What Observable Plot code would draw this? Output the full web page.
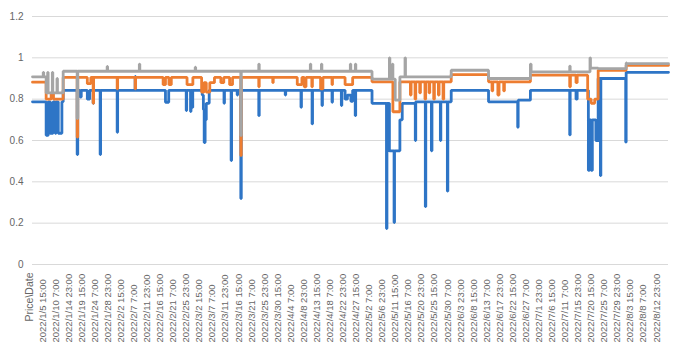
<!DOCTYPE html>
<html>
<head>
<meta charset="utf-8">
<script src="https://cdn.jsdelivr.net/npm/d3@7"></script>
<script src="https://cdn.jsdelivr.net/npm/@observablehq/plot@0.6"></script>
<style>
  html, body { margin: 0; padding: 0; background: #fff; }
  #chart { width: 680px; height: 348px; overflow: hidden; }
</style>
</head>
<body>
<div id="chart"></div>
<script>
// Category positions are hourly rows (0 = header row "Price\Date"), a label every 112 rows.
const tickLabels = ["Price\\Date","2022/1/5 15:00","2022/1/10 7:00","2022/1/14 23:00","2022/1/19 15:00","2022/1/24 7:00","2022/1/28 23:00","2022/2/2 15:00","2022/2/7 7:00","2022/2/11 23:00","2022/2/16 15:00","2022/2/21 7:00","2022/2/25 23:00","2022/3/2 15:00","2022/3/7 7:00","2022/3/11 23:00","2022/3/16 15:00","2022/3/21 7:00","2022/3/25 23:00","2022/3/30 15:00","2022/4/4 7:00","2022/4/8 23:00","2022/4/13 15:00","2022/4/18 7:00","2022/4/22 23:00","2022/4/27 15:00","2022/5/2 7:00","2022/5/6 23:00","2022/5/11 15:00","2022/5/16 7:00","2022/5/20 23:00","2022/5/25 15:00","2022/5/30 7:00","2022/6/3 23:00","2022/6/8 15:00","2022/6/13 7:00","2022/6/17 23:00","2022/6/22 15:00","2022/6/27 7:00","2022/7/1 23:00","2022/7/6 15:00","2022/7/11 7:00","2022/7/15 23:00","2022/7/20 15:00","2022/7/25 7:00","2022/7/29 23:00","2022/8/3 15:00","2022/8/8 7:00","2022/8/12 23:00"];
const labelStep = 112;
const lastRow = 5453;
const yTicks = [0, 0.2, 0.4, 0.6, 0.8, 1, 1.2];

// Step series: [row, value] — value holds from that row until the next entry.
const blueSteps = [
[0,0.787],[117,0.625],[135,0.787],[152,0.635],[176,0.787],[195,0.635],[202,0.787],[221,0.635],[252,0.787],
[263,0.843],[383,0.532],[388,0.843],[410,0.81],[418,0.843],[470,0.80],[490,0.843],[520,0.78],[524,0.843],
[580,0.532],[584,0.843],[726,0.64],[730,0.843],[880,0.91],[884,0.843],[1140,0.785],[1168,0.843],
[1318,0.745],[1322,0.843],[1355,0.74],[1359,0.843],[1370,0.76],[1374,0.843],
[1455,0.82],[1465,0.75],[1472,0.59],[1480,0.70],[1490,0.78],[1515,0.843],
[1642,0.78],[1646,0.843],[1703,0.503],[1707,0.843],[1755,0.82],[1759,0.843],[1786,0.319],[1790,0.843],
[1940,0.72],[1944,0.843],[2167,0.82],[2171,0.843],[2302,0.761],[2306,0.843],[2397,0.68],[2401,0.843],
[2482,0.769],[2486,0.843],[2568,0.785],[2572,0.843],[2648,0.769],[2652,0.843],
[2680,0.80],[2700,0.82],[2730,0.79],[2745,0.843],[2767,0.72],[2771,0.843],
[2911,0.78],[3035,0.174],[3039,0.78],[3060,0.55],[3100,0.203],[3104,0.55],[3150,0.70],[3170,0.78],
[3282,0.60],[3286,0.787],[3368,0.28],[3372,0.787],[3420,0.55],[3425,0.787],[3497,0.60],[3501,0.787],[3557,0.355],[3561,0.787],
[3590,0.843],[3910,0.787],[4160,0.664],[4164,0.795],
[4269,0.843],[4606,0.627],[4610,0.843],[4660,0.80],[4670,0.843],
[4766,0.455],[4775,0.70],[4790,0.455],[4800,0.70],[4830,0.60],[4850,0.90],[4869,0.43],[4873,0.90],
[5086,0.592],[5090,0.93]
];
const orangeSteps = [
[0,0.882],[117,0.80],[160,0.83],[180,0.80],[263,0.905],[383,0.616],[388,0.905],[470,0.875],[500,0.905],
[520,0.78],[524,0.905],[726,0.85],[730,0.905],[880,0.85],[884,0.905],
[1120,0.87],[1140,0.905],[1170,0.87],[1190,0.905],[1325,0.87],[1375,0.905],
[1450,0.834],[1470,0.88],[1490,0.834],[1520,0.88],[1560,0.905],[1615,0.88],[1640,0.905],[1690,0.87],[1715,0.905],
[1786,0.527],[1790,0.905],[1940,0.86],[1944,0.905],[2060,0.88],[2064,0.905],[2270,0.87],[2310,0.905],
[2330,0.86],[2345,0.905],[2395,0.86],[2400,0.905],[2470,0.85],[2490,0.905],[2568,0.87],[2572,0.905],[2680,0.87],[2745,0.905],
[2911,0.884],[3090,0.739],[3150,0.884],
[3240,0.82],[3246,0.884],[3280,0.80],[3286,0.884],[3320,0.83],[3326,0.884],[3365,0.80],[3371,0.884],[3400,0.83],[3406,0.884],
[3440,0.80],[3446,0.884],[3480,0.82],[3486,0.884],[3520,0.80],[3526,0.884],
[3590,0.919],[3910,0.884],[3940,0.84],[3946,0.884],[3990,0.82],[4000,0.884],[4040,0.84],[4046,0.884],
[4269,0.916],[4606,0.86],[4612,0.916],[4660,0.88],[4670,0.916],[4760,0.80],[4790,0.78],[4820,0.80],[4850,0.94],
[5090,0.964]
];
const graySteps = [
[0,0.908],[92,0.93],[96,0.908],[117,0.83],[130,0.93],[134,0.83],[170,0.93],[174,0.83],[210,0.90],[214,0.83],
[263,0.935],[383,0.706],[388,0.935],[640,0.958],[644,0.935],[916,0.97],[920,0.935],[1395,0.955],[1399,0.935],
[1786,0.624],[1790,0.935],[1940,0.97],[1944,0.935],[2382,0.97],[2386,0.935],[2477,0.97],[2481,0.935],
[2725,0.97],[2729,0.935],[2768,0.97],[2772,0.935],
[2911,0.897],[3060,1.0],[3064,0.897],[3086,0.97],[3090,0.897],[3110,0.795],[3150,0.908],[3194,1.0],[3198,0.908],
[3590,0.94],[3910,0.90],[4269,0.97],[4275,0.932],[4606,0.96],[4610,0.932],[4780,1.0],[4784,0.95],[4850,0.948],
[5090,0.975],[5094,0.972]
];

function expand(steps, name) {
  const pts = steps.map(([x, v]) => ({x, v, s: name}));
  pts.push({x: lastRow, v: steps[steps.length - 1][1], s: name});
  return pts;
}
const series = [
  {name: "blue", steps: blueSteps, color: "#2e75c6"},
  {name: "orange", steps: orangeSteps, color: "#ed7d31"},
  {name: "gray", steps: graySteps, color: "#a5a5a5"}
];
const ticks = tickLabels.map((t, i) => ({x: i * labelStep, t}));

const chart = Plot.plot({
  width: 680,
  height: 348,
  marginLeft: 32,
  marginRight: 12,
  marginTop: 16,
  marginBottom: 84,
  style: {fontFamily: "'Liberation Sans', Arial, sans-serif", background: "#fff"},
  x: {domain: [0, lastRow], axis: null},
  y: {domain: [0, 1.2], axis: null},
  marks: [
    Plot.ruleY(yTicks, {stroke: "#d9d9d9", strokeWidth: 1}),
    Plot.axisY({ticks: yTicks, tickSize: 0, tickPadding: 9, tickFormat: d => String(+d.toFixed(1)), fontSize: 10, fill: "#666", label: null}),
    ...series.map(s => Plot.line(expand(s.steps, s.name), {x: "x", y: "v", curve: "step-after", stroke: s.color, strokeWidth: 2.8, strokeLinejoin: "miter"})),
    Plot.text(ticks.slice(0, 1), {x: "x", text: "t", frameAnchor: "bottom", dy: 8, rotate: -90, textAnchor: "end", fontSize: 10.5, fill: "#666"}),
    Plot.text(ticks.slice(1), {x: "x", text: "t", frameAnchor: "bottom", dy: 78, rotate: -90, textAnchor: "start", fontSize: 9.5, fill: "#666"})
  ]
});
document.getElementById("chart").appendChild(chart);
</script>
</body>
</html>
